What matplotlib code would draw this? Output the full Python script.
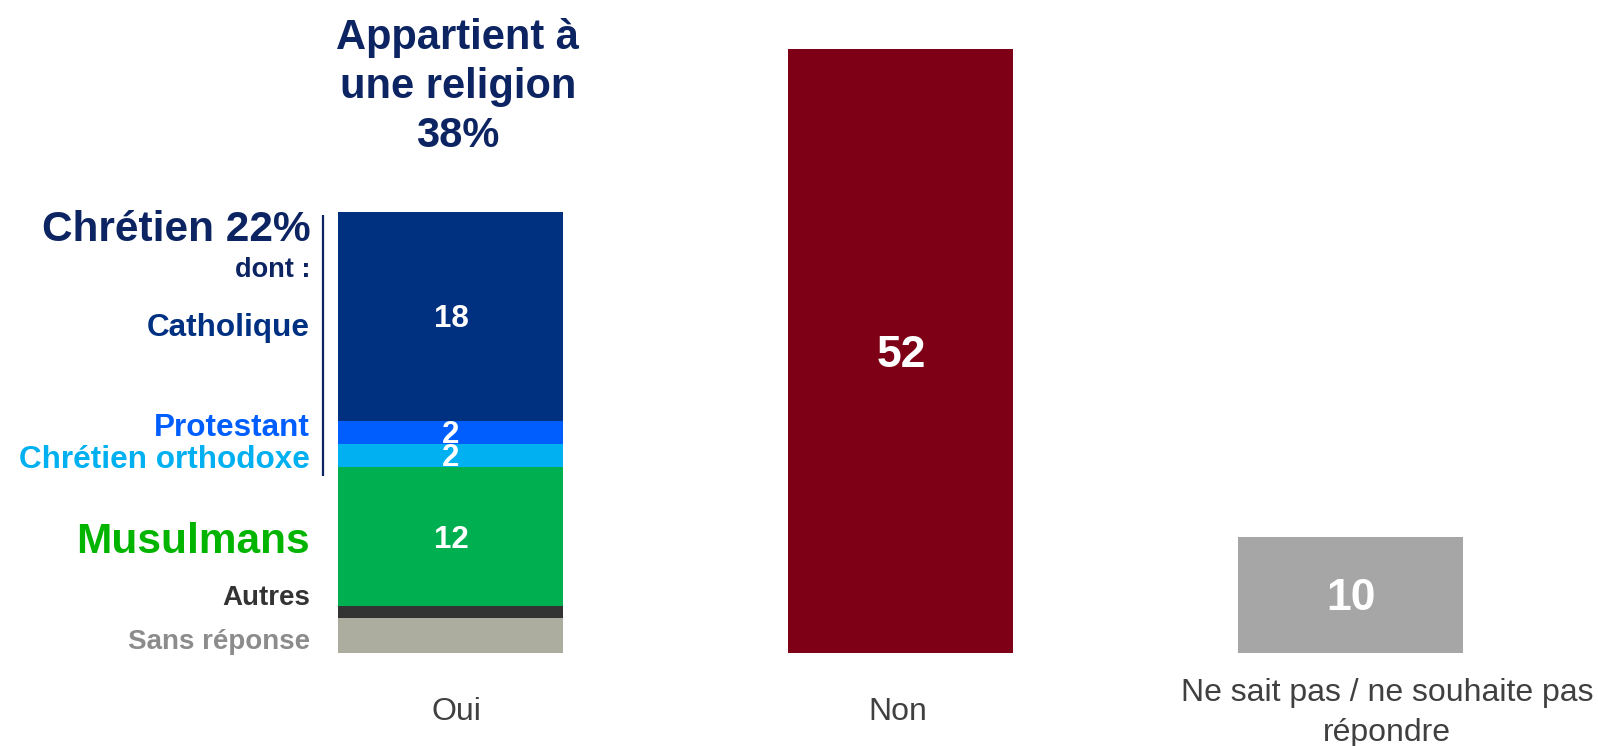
import matplotlib
matplotlib.use("Agg")
import matplotlib.pyplot as plt

plt.rcParams['font.family'] = ['Liberation Sans', 'DejaVu Sans']

# ---------------- data ----------------
categories = ["Oui", "Non", "Ne sait pas / ne souhaite pas\nrépondre"]
oui_segments = ["Sans réponse", "Autres", "Musulmans", "Chrétien orthodoxe", "Protestant", "Catholique"]
oui_values = [3, 1, 12, 2, 2, 18]
oui_show_value = [False, False, True, True, True, True]
non_value = 52
nsp_value = 10
title_text = "Appartient à\nune religion\n38%"
chretien_text = "Chrétien 22%"
dont_text = "dont :"

# ---------------- styles ----------------
seg_colors = ["#ADAD9F", "#333333", "#00B050", "#00B0F0", "#005EFF", "#003080"]
label_colors = ["#8C8C8C", "#333333", "#00B400", "#00B0F0", "#005EFF", "#003082"]
label_sizes = [20, 20, 30.5, 22.7, 22.7, 22.7]
# baseline of each left label (data units)
label_y = [0.28, 4.1, 8.55, 15.9, 18.7, 27.3]
non_color = "#7E0016"
nsp_color = "#A6A6A6"
navy = "#0D2462"

W, H = 1598, 746
fig = plt.figure(figsize=(W / 100, H / 100), dpi=100)
ax = fig.add_axes([0, 0, 1, 1])
px_per_x = 450.0
x0_px = 451.0
px_per_y = 11.6
y0_px = 652.5
ax.set_xlim(-x0_px / px_per_x, (W - x0_px) / px_per_x)
ax.set_ylim(-(H - y0_px) / px_per_y, y0_px / px_per_y)
ax.axis("off")


def value_label(x, yc, txt, fs):
    # place digits so that their visual centre sits on yc
    shift = 0.358 * fs * 100 / 72 / px_per_y
    ax.text(x, yc - shift, txt, ha="center", va="baseline",
            color="white", fontsize=fs, fontweight="bold")


bw = 0.5
xs = list(range(len(categories)))

# Oui stacked bar
bottom = 0
for val, col, show in zip(oui_values, seg_colors, oui_show_value):
    ax.bar(xs[0], val, bottom=bottom, width=bw, color=col, linewidth=0)
    if show:
        value_label(xs[0], bottom + val / 2, str(val), 22.5)
    bottom += val

# Non, NSP
ax.bar(xs[1], non_value, width=bw, color=non_color, linewidth=0)
value_label(xs[1], non_value / 2, str(non_value), 32)
ax.bar(xs[2], nsp_value, width=bw, color=nsp_color, linewidth=0)
value_label(xs[2], nsp_value / 2, str(nsp_value), 32)

# Left labels
lx = -0.313
for name, col, fs, yy in zip(oui_segments, label_colors, label_sizes, label_y):
    ax.text(lx, yy, name, ha="right", va="baseline", color=col,
            fontsize=fs, fontweight="bold")
ax.text(lx, 35.5, chretien_text, ha="right", va="baseline", color=navy,
        fontsize=30.5, fontweight="bold")
ax.text(lx, 32.35, dont_text, ha="right", va="baseline", color=navy,
        fontsize=19.5, fontweight="bold")

# Vertical bracket line
ax.plot([-0.284, -0.284], [15.2, 37.7], color=navy, linewidth=1.6,
        solid_capstyle="butt")

# Title (baseline of last line)
ax.text(0.015, 43.6, title_text, ha="center", va="baseline",
        color=navy, fontsize=30, fontweight="bold", linespacing=1.28)

# Category labels
ax.text(xs[0] + 0.013, -5.82, categories[0], ha="center", va="baseline",
        color="#404040", fontsize=23)
ax.text(xs[1] - 0.008, -5.82, categories[1], ha="center", va="baseline",
        color="#404040", fontsize=23)
ax.text(xs[2] + 0.08, -7.6, categories[2], ha="center", va="baseline",
        color="#404040", fontsize=23, linespacing=1.42)

fig.savefig("out.png", dpi=100)
